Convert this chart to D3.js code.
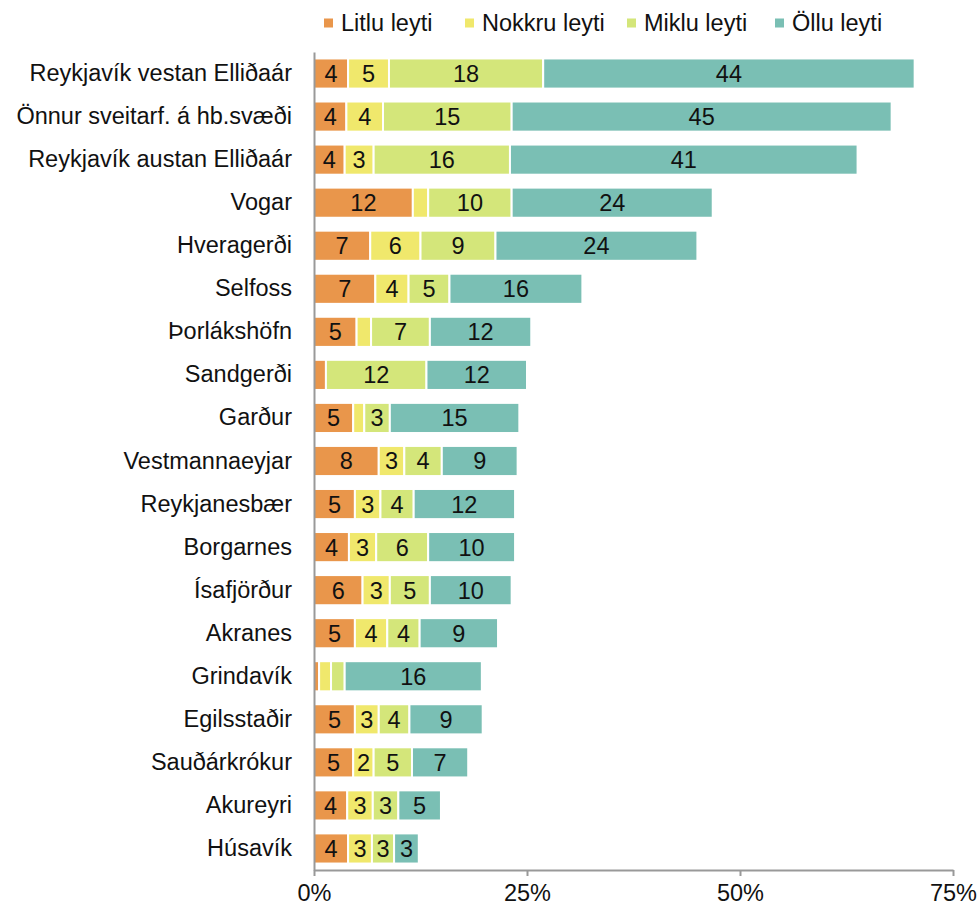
<!DOCTYPE html>
<html>
<head>
<meta charset="utf-8">
<script src="https://cdn.jsdelivr.net/npm/d3@7"></script>
<style>
  body { margin: 0; background: #fff; }
  svg text { font-family: "Liberation Sans", Arial, sans-serif; fill: #111; }
</style>
</head>
<body>
<div id="chart"></div>
<script>
const width = 977;
const height = 907;

// places, top to bottom
const places = ["Reykjavík vestan Elliðaár", "Önnur sveitarf. á hb.svæði", "Reykjavík austan Elliðaár",
  "Vogar", "Hveragerði", "Selfoss", "Þorlákshöfn", "Sandgerði", "Garður", "Vestmannaeyjar",
  "Reykjanesbær", "Borgarnes", "Ísafjörður", "Akranes", "Grindavík", "Egilsstaðir",
  "Sauðárkrókur", "Akureyri", "Húsavík"];

const seriesNames = ["Litlu leyti", "Nokkru leyti", "Miklu leyti", "Öllu leyti"];
const colors = ["#e9964b", "#f0e86c", "#d4e67a", "#7abfb4"];

// percent values per series
const litlu  = [4.0, 3.8, 3.6, 11.6, 6.6, 7.2, 5.0, 1.4, 4.6, 7.6, 4.8, 4.1, 5.7, 4.8, 0.6, 4.8, 4.6, 3.9, 4.0];
const nokkru = [4.8, 4.3, 3.4, 1.8, 5.9, 3.9, 1.7, 0.0, 1.3, 3.0, 3.0, 3.2, 3.2, 3.8, 1.4, 2.8, 2.4, 3.0, 2.8];
const miklu  = [18.1, 15.1, 16.0, 9.8, 8.8, 4.8, 6.9, 11.8, 3.0, 4.4, 3.9, 6.1, 4.7, 3.8, 1.6, 3.6, 4.5, 3.0, 2.6];
const ollu   = [43.6, 44.6, 40.8, 23.6, 23.7, 15.6, 11.9, 11.8, 15.2, 8.9, 11.9, 10.2, 9.6, 9.2, 16.1, 8.6, 6.6, 5.0, 2.9];

const xTicks = [0, 25, 50, 75];

const margin = { top: 52, right: 24, bottom: 37, left: 314 };
const fontSize = "23.5px";

const table = places.map((p, i) => ({
  place: p,
  "Litlu leyti": litlu[i],
  "Nokkru leyti": nokkru[i],
  "Miklu leyti": miklu[i],
  "Öllu leyti": ollu[i]
}));

const svg = d3.select("#chart").append("svg")
  .attr("width", width)
  .attr("height", height);

const x = d3.scaleLinear()
  .domain([0, 75])
  .range([margin.left, 953]);

const y = d3.scaleBand()
  .domain(places)
  .range([margin.top, height - margin.bottom])
  .paddingInner(0.3)
  .paddingOuter(0.15);

const color = d3.scaleOrdinal().domain(seriesNames).range(colors);

const stacked = d3.stack().keys(seriesNames)(table);

const layers = svg.append("g").selectAll("g")
  .data(stacked)
  .join("g")
  .attr("fill", d => color(d.key));

layers.selectAll("rect")
  .data(d => d)
  .join("rect")
  .attr("x", d => x(d[0]))
  .attr("y", d => y(d.data.place))
  .attr("width", d => Math.max(0, x(d[1]) - x(d[0])))
  .attr("height", y.bandwidth())
  .attr("stroke", "#fff")
  .attr("stroke-width", 2);

// value labels, only where the segment is wide enough
layers.selectAll("text")
  .data(d => d.filter(v => v[1] - v[0] >= 2))
  .join("text")
  .attr("x", d => (x(d[0]) + x(d[1])) / 2)
  .attr("y", d => y(d.data.place) + y.bandwidth() / 2)
  .attr("dy", "0.36em")
  .attr("text-anchor", "middle")
  .style("font-size", fontSize)
  .text(d => Math.round(d[1] - d[0]));

// y axis labels + line
const yAxis = svg.append("g")
  .attr("transform", `translate(${margin.left},0)`)
  .call(d3.axisLeft(y).tickSize(0).tickPadding(22));
yAxis.select(".domain").attr("stroke", "#999").attr("stroke-width", 2);
yAxis.selectAll("text").style("font-size", fontSize).attr("fill", "#111");

// x axis
const xAxis = svg.append("g")
  .attr("transform", `translate(0,${height - margin.bottom})`)
  .call(d3.axisBottom(x).tickValues(xTicks).tickFormat(d => d + "%").tickSize(6).tickSizeOuter(0).tickPadding(8));
xAxis.select(".domain").attr("stroke", "#999").attr("stroke-width", 2);
xAxis.selectAll(".tick line").attr("stroke", "#999").attr("stroke-width", 2);
xAxis.selectAll("text").style("font-size", fontSize).attr("fill", "#111");

// legend
const legendX = [324, 465, 627, 775];
const legend = svg.append("g").selectAll("g")
  .data(seriesNames)
  .join("g")
  .attr("transform", (d, i) => `translate(${legendX[i]},23)`);
legend.append("rect")
  .attr("x", 0).attr("y", -4.5)
  .attr("width", 9).attr("height", 9)
  .attr("fill", d => color(d));
legend.append("text")
  .attr("x", 17)
  .attr("dy", "0.36em")
  .style("font-size", fontSize)
  .text(d => d);
</script>
</body>
</html>
